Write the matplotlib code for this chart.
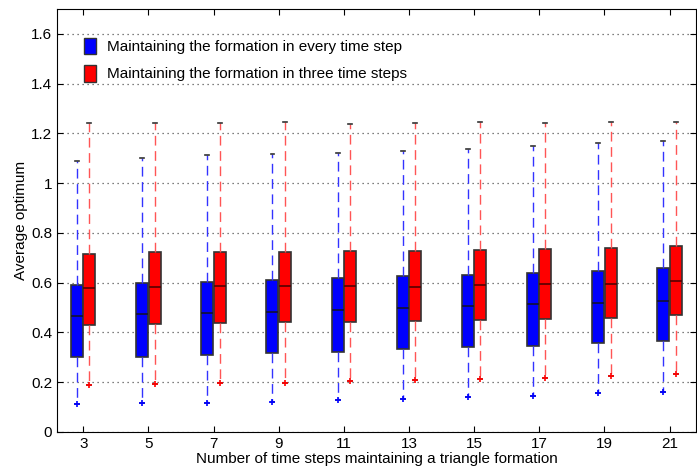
import matplotlib.pyplot as plt
from matplotlib.patches import Patch

plt.rcParams['font.family'] = ['Liberation Sans', 'DejaVu Sans']
plt.rcParams['font.size'] = 11

steps = [3, 5, 7, 9, 11, 13, 15, 17, 19, 21]

# every time step (blue)
blue_lo = [0.112, 0.115, 0.118, 0.122, 0.130, 0.132, 0.139, 0.146, 0.156, 0.162]
blue_q1 = [0.301, 0.303, 0.310, 0.316, 0.322, 0.333, 0.340, 0.346, 0.356, 0.366]
blue_med = [0.465, 0.472, 0.476, 0.482, 0.490, 0.496, 0.504, 0.513, 0.520, 0.527]
blue_q3 = [0.591, 0.599, 0.604, 0.611, 0.617, 0.625, 0.632, 0.637, 0.647, 0.658]
blue_hi = [1.087, 1.100, 1.111, 1.116, 1.121, 1.130, 1.139, 1.148, 1.162, 1.171]

# three time steps (red)
red_lo = [0.188, 0.192, 0.195, 0.198, 0.203, 0.207, 0.214, 0.217, 0.223, 0.234]
red_q1 = [0.429, 0.433, 0.437, 0.442, 0.442, 0.445, 0.448, 0.452, 0.458, 0.469]
red_med = [0.579, 0.581, 0.585, 0.585, 0.585, 0.583, 0.589, 0.595, 0.596, 0.608]
red_q3 = [0.716, 0.722, 0.723, 0.725, 0.726, 0.729, 0.733, 0.735, 0.738, 0.749]
red_hi = [1.240, 1.242, 1.240, 1.246, 1.236, 1.240, 1.246, 1.242, 1.246, 1.246]

labels = ['Maintaining the formation in every time step',
          'Maintaining the formation in three time steps']


def make_stats(lo, q1, med, q3, hi):
    return [dict(whislo=a, q1=b, med=c, q3=d, whishi=e, fliers=[])
            for a, b, c, d, e in zip(lo, q1, med, q3, hi)]


fig = plt.figure(figsize=(6.97, 4.72), dpi=100)
ax = fig.add_axes([0.082, 0.085, 0.916, 0.896])

off = 0.19
w = 0.37
for stats, shift, col, wcol, mcol in [
        (make_stats(blue_lo, blue_q1, blue_med, blue_q3, blue_hi), -off, '#0000ff', '#3333ff', '#111133'),
        (make_stats(red_lo, red_q1, red_med, red_q3, red_hi), off, '#ff0000', '#ff5555', '#550000')]:
    pos = [s + shift for s in steps]
    ax.bxp(stats, positions=pos, widths=w, patch_artist=True, showfliers=False,
           boxprops=dict(facecolor=col, edgecolor='#333333', linewidth=1.2),
           medianprops=dict(color=mcol, linewidth=1.2),
           whiskerprops=dict(color=wcol, linestyle=(0, (7, 4)), linewidth=1),
           capprops=dict(color='#333333', linewidth=1.2), capwidths=0.12,
           manage_ticks=False)
    lows = [s['whislo'] for s in stats]
    ax.plot(pos, lows, '+', color=col, markersize=4, markeredgewidth=1.2)

ax.set_xlim(2.2, 21.8)
ax.set_ylim(0, 1.7)
ax.set_xticks(steps)
ax.set_yticks([0, 0.2, 0.4, 0.6, 0.8, 1.0, 1.2, 1.4, 1.6])
ax.set_yticklabels(['0', '0.2', '0.4', '0.6', '0.8', '1', '1.2', '1.4', '1.6'])
ax.yaxis.grid(True, linestyle=(0, (1, 3)), color='#555555', linewidth=0.9)
ax.set_axisbelow(True)
ax.tick_params(direction='in', top=True, right=True, length=4)

ax.set_xlabel('Number of time steps maintaining a triangle formation', labelpad=1)
ax.set_ylabel('Average optimum', labelpad=2)

handles = [Patch(facecolor='#0000ff', edgecolor='#333333'),
           Patch(facecolor='#ff0000', edgecolor='#333333')]
ax.legend(handles, labels, loc='upper left', frameon=False,
          handlelength=0.8, handleheight=1.3, handletextpad=0.75,
          labelspacing=0.7, bbox_to_anchor=(0.02, 0.965))

fig.savefig('out.png', dpi=100)
